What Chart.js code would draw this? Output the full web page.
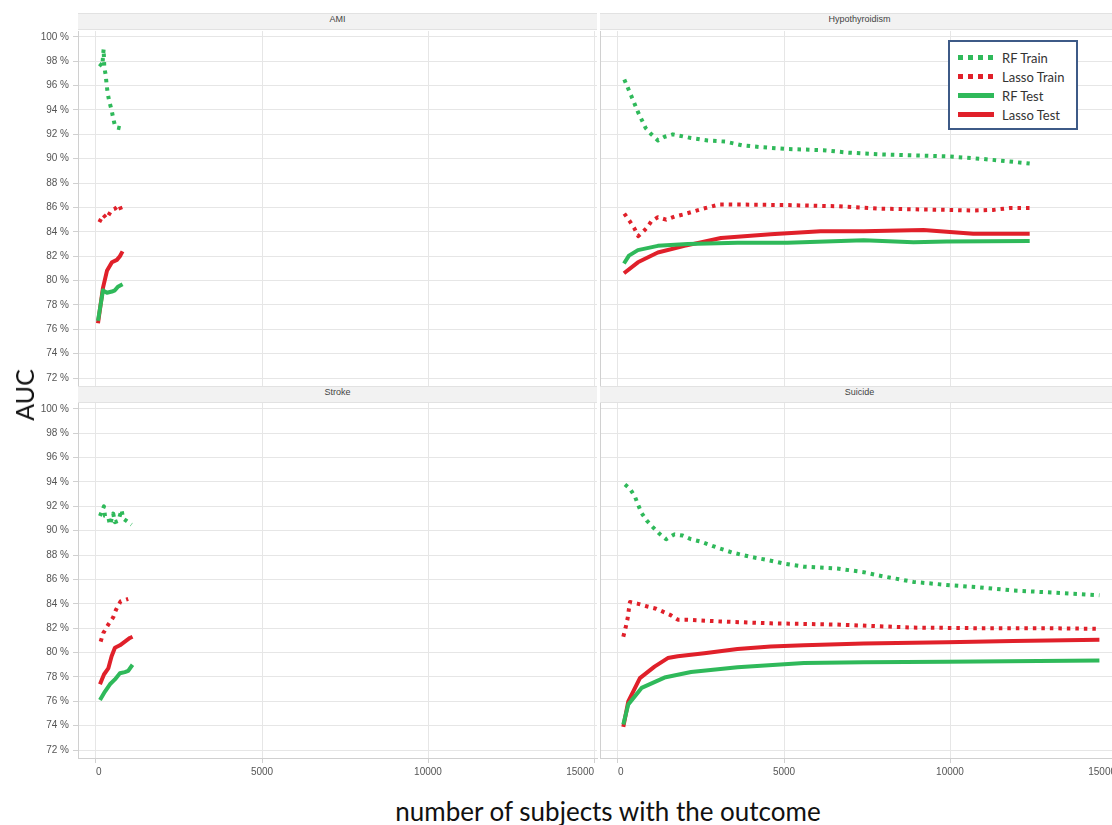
<!DOCTYPE html>
<html>
<head>
<meta charset="utf-8">
<script src="https://cdn.jsdelivr.net/npm/chart.js@4.4.1/dist/chart.umd.min.js"></script>
<style>
  body { margin: 0; width: 1112px; height: 825px; overflow: hidden; background: #fff; position: relative; }
  canvas { position: absolute; }
  .strip { position: absolute; height: 17px; line-height: 17px; background: #f2f2f2;
           border-top: 1px solid #e2e2e2; border-bottom: 1px solid #e2e2e2; box-sizing: border-box;
           text-align: center; font: 9px "Liberation Sans", sans-serif; color: #444; }
  .ytitle { position: absolute; left: 24px; top: 395px; transform: translate(-50%, -50%) rotate(-90deg);
            font: 25px Lato, sans-serif; color: #111; white-space: nowrap; }
  .xtitle { position: absolute; left: 608px; top: 811px; transform: translate(-50%, -50%);
            font: 26px Lato, sans-serif; color: #111; white-space: nowrap; }
  #legend { position: absolute; left: 948px; top: 40px; width: 130px; height: 90px; box-sizing: border-box;
            border: 2px solid #3d5a87; background: #fff; padding-top: 6px; }
  #legend .row { height: 19px; display: flex; align-items: center; font: 13px Lato, sans-serif; color: #333; }
  #legend .sample { width: 36px; height: 5px; margin: 0 8px 0 8px; }
</style>
</head>
<body>
<div class="strip" style="left:78px; top:13px; width:519px;">AMI</div>
<div class="strip" style="left:600px; top:13px; width:519px;">Hypothyroidism</div>
<div class="strip" style="left:78px; top:386px; width:519px;">Stroke</div>
<div class="strip" style="left:600px; top:386px; width:519px;">Suicide</div>

<canvas id="ami" width="620" height="355" style="left:0; top:31px;"></canvas>
<canvas id="hypo" width="519" height="355" style="left:600px; top:31px;"></canvas>
<canvas id="stroke" width="620" height="385" style="left:0; top:403px;"></canvas>
<canvas id="suicide" width="519" height="385" style="left:600px; top:403px;"></canvas>

<div class="ytitle">AUC</div>
<div class="xtitle">number of subjects with the outcome</div>
<div id="legend"></div>

<script>
// axis ticks
const xTicks = [0, 5000, 10000, 15000];
const yTicks = [72, 74, 76, 78, 80, 82, 84, 86, 88, 90, 92, 94, 96, 98, 100];

// series: [number of subjects with the outcome, AUC %]
const amiRfTrain = [[100,97.8],[190,97.6],[230,99.0],[250,97.5],[290,96.9],[320,96.1],[350,95.4],[400,94.7],[470,94.0],[520,93.3],[580,92.6],[740,92.5]];
const amiLassoTrain = [[100,84.8],[220,85.4],[320,85.1],[470,85.8],[570,85.9],[700,86.2],[800,85.5]];
const amiRfTest = [[60,76.7],[210,79.2],[330,79.0],[480,79.1],[570,79.2],[660,79.5],[800,79.7]];
const amiLassoTest = [[60,76.5],[210,79.4],[330,80.8],[480,81.5],[630,81.7],[720,82.0],[800,82.4]];

const hypoRfTrain = [[190,96.5],[408,95.1],[607,93.8],[836,92.5],[1005,92.0],[1204,91.5],[1403,91.8],[1652,92.0],[2199,91.7],[2697,91.5],[3244,91.4],[3741,91.1],[4289,90.95],[5084,90.8],[6179,90.7],[6925,90.5],[7920,90.35],[8915,90.27],[9910,90.2],[10905,90.0],[11700,89.8],[12400,89.6]];
const hypoLassoTrain = [[190,85.5],[360,84.85],[500,84.25],[610,83.65],[710,83.9],[860,84.3],[1000,84.85],[1200,85.2],[1450,85.0],[1700,85.25],[2000,85.45],[2500,85.85],[3050,86.25],[3300,86.25],[5000,86.2],[6600,86.1],[7900,85.9],[9900,85.8],[10700,85.75],[11300,85.8],[11800,85.95],[12400,85.95]];
const hypoRfTest = [[180,81.4],[330,82.05],[600,82.5],[1200,82.85],[2100,83.0],[3600,83.1],[5100,83.1],[7400,83.3],[8900,83.15],[9900,83.2],[12400,83.25]];
const hypoLassoTest = [[180,80.6],[600,81.5],[1200,82.3],[2000,82.85],[3100,83.5],[4600,83.8],[6100,84.05],[7400,84.05],[9200,84.15],[10700,83.85],[12400,83.85]];

const strokeRfTrain = [[120,91.2],[240,92.0],[270,91.2],[370,91.1],[420,90.5],[520,91.4],[570,90.7],[670,90.8],[770,91.7],[820,91.0],[920,90.8],[1070,90.5]];
const strokeLassoTrain = [[140,80.9],[220,81.6],[370,82.3],[520,82.9],[600,83.5],[740,84.2],[970,84.4]];
const strokeRfTest = [[120,76.1],[270,76.8],[420,77.4],[570,77.8],[720,78.3],[870,78.4],[970,78.5],[1100,79.0]];
const strokeLassoTest = [[120,77.4],[240,78.2],[370,78.7],[470,79.7],[570,80.4],[720,80.6],[870,80.9],[1020,81.2],[1100,81.3]];

const suicideRfTrain = [[210,93.8],[360,93.45],[510,92.8],[610,92.1],[710,91.45],[860,90.85],[1050,90.3],[1250,89.75],[1450,89.3],[1700,89.7],[1950,89.6],[2200,89.3],[2500,89.1],[3000,88.6],[3450,88.2],[4000,87.85],[4500,87.6],[5000,87.3],[5600,87.05],[6600,86.9],[7400,86.6],[7900,86.3],[8900,85.8],[9900,85.55],[10900,85.35],[11900,85.1],[12900,84.95],[13900,84.8],[14500,84.7]];
const suicideLassoTrain = [[160,81.3],[230,82.05],[290,82.8],[330,83.6],[360,84.15],[610,84.0],[860,83.8],[1150,83.6],[1400,83.3],[1600,83.05],[1800,82.7],[2100,82.7],[3100,82.55],[4600,82.4],[6600,82.3],[8900,82.05],[10900,82.0],[12900,82.0],[14500,81.95]];
const suicideRfTest = [[160,74.1],[310,75.75],[710,77.1],[1400,77.95],[2200,78.4],[3600,78.8],[5600,79.15],[7400,79.2],[9900,79.25],[14500,79.35]];
const suicideLassoTest = [[160,73.9],[310,76.0],[660,77.9],[1100,78.85],[1500,79.55],[1800,79.7],[2600,79.95],[3600,80.3],[4600,80.5],[5600,80.6],[7400,80.75],[9900,80.85],[11900,80.95],[14500,81.05]];

const seriesNames = ['RF Train', 'Lasso Train', 'RF Test', 'Lasso Test'];
const green = '#2fb95a';
const red = '#e0202a';
const styles = [
  { color: green, dash: [3.5, 5] },
  { color: red, dash: [3.5, 5] },
  { color: green, dash: [] },
  { color: red, dash: [] }
];

function makeDatasets(list) {
  return list.map((pts, i) => ({
    label: seriesNames[i],
    data: pts.map(p => ({ x: p[0], y: p[1] })),
    borderColor: styles[i].color,
    borderDash: styles[i].dash,
    borderWidth: 4,
    borderCapStyle: 'butt',
    borderJoinStyle: 'round',
    tension: 0,
    pointRadius: 0,
    fill: false
  }));
}

// one facet of the grid
function facet(id, lists, showY, showX, padRight) {
  new Chart(document.getElementById(id), {
    type: 'line',
    data: { datasets: makeDatasets(lists) },
    options: {
      responsive: false,
      animation: false,
      devicePixelRatio: 1,
      layout: { padding: { left: 0, right: padRight, top: 0, bottom: 0 } },
      plugins: { legend: { display: false }, tooltip: { enabled: false } },
      scales: {
        x: {
          type: 'linear',
          min: -542,
          max: 15090,
          afterBuildTicks: s => { s.ticks = xTicks.map(v => ({ value: v })); },
          afterFit: s => { s.height = showX ? 30 : 0; s.paddingLeft = 0; s.paddingRight = 0; },
          grid: { color: '#e6e6e6', drawTicks: showX, tickLength: 5, tickColor: '#d0d0d0' },
          border: { color: '#d0d0d0' },
          ticks: { display: showX, align: 'inner', maxRotation: 0, padding: 3, callback: v => String(v),
                   font: { family: 'Liberation Sans', size: 10 }, color: '#555' }
        },
        y: {
          type: 'linear',
          min: 71.35,
          max: 100.48,
          afterBuildTicks: s => { s.ticks = yTicks.map(v => ({ value: v })); },
          afterFit: s => { s.width = showY ? 78 : 0; s.paddingTop = 0; s.paddingBottom = 0; },
          grid: { color: '#e6e6e6', drawTicks: showY, tickLength: 5, tickColor: '#d0d0d0' },
          border: { color: '#d0d0d0' },
          ticks: { display: showY, padding: 4, callback: v => v + ' %',
                   font: { family: 'Liberation Sans', size: 10 }, color: '#555' }
        }
      }
    }
  });
}

facet('ami', [amiRfTrain, amiLassoTrain, amiRfTest, amiLassoTest], true, false, 23);
facet('hypo', [hypoRfTrain, hypoLassoTrain, hypoRfTest, hypoLassoTest], false, false, 0);
facet('stroke', [strokeRfTrain, strokeLassoTrain, strokeRfTest, strokeLassoTest], true, true, 23);
facet('suicide', [suicideRfTrain, suicideLassoTrain, suicideRfTest, suicideLassoTest], false, true, 0);

// legend box
const legend = document.getElementById('legend');
seriesNames.forEach((name, i) => {
  const row = document.createElement('div');
  row.className = 'row';
  const sample = document.createElement('div');
  sample.className = 'sample';
  sample.style.background = styles[i].dash.length
    ? `repeating-linear-gradient(90deg, ${styles[i].color} 0 5px, transparent 5px 10px)`
    : styles[i].color;
  const label = document.createElement('span');
  label.textContent = name;
  row.appendChild(sample);
  row.appendChild(label);
  legend.appendChild(row);
});
</script>
</body>
</html>
